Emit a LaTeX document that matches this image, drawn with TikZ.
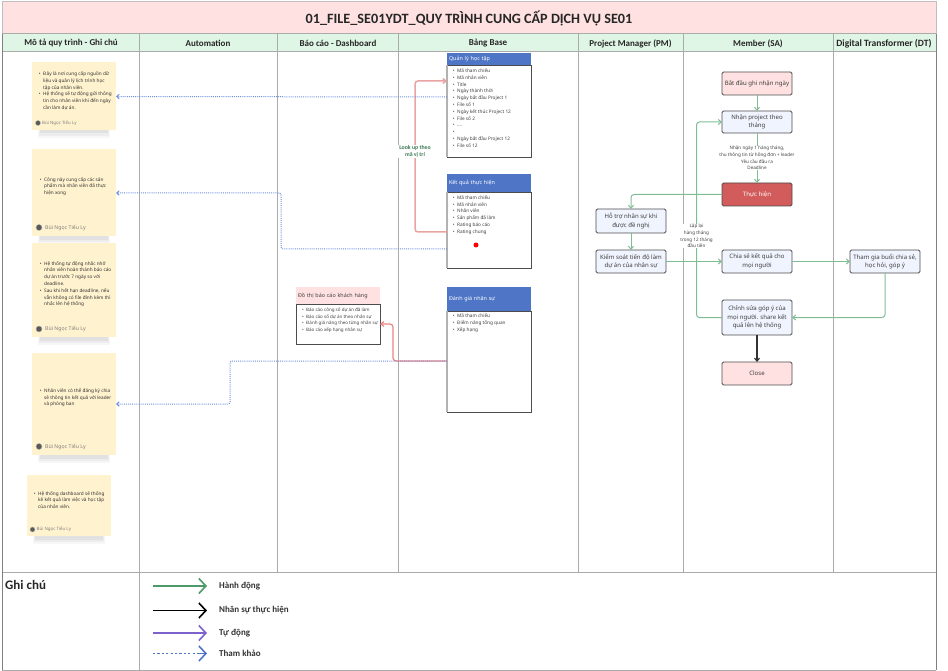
\documentclass[tikz,border=0pt]{standalone}
\usepackage{fontspec}
\setmainfont{Noto Sans}
\newfontfamily\headfont{Carlito}
\usetikzlibrary{arrows.meta,calc,backgrounds}
\definecolor{titlepink}{HTML}{FFE1E1}
\definecolor{headgreen}{HTML}{DFF5E5}
\definecolor{lanegray}{HTML}{ABABAB}
\definecolor{notey}{HTML}{FFF2CE}
\definecolor{boxblue}{HTML}{F0F4FE}
\definecolor{boxred}{HTML}{D25B5B}
\definecolor{tblue}{HTML}{4F76C6}
\definecolor{flowgreen}{HTML}{7FBE94}
\definecolor{linkpink}{HTML}{E9A3A3}
\definecolor{refblue}{HTML}{6F8FDB}
\definecolor{leggreen}{HTML}{4C9A6A}
\definecolor{legpurple}{HTML}{7D62CE}
\definecolor{legblue}{HTML}{4F76C6}
\tikzset{
  x=1pt,y=-1pt,
  band/.style={anchor=north west,inner sep=0pt,outer sep=0pt},
  headtext/.style={font=\headfont\bfseries\fontsize{9}{10}\selectfont,text=black!85,inner sep=0pt},
  lane/.style={draw=lanegray,line width=1pt},
  notebox/.style={band,fill=notey},
  tx/.style={font=\fontsize{4.7}{6.8}\selectfont,align=left,inner sep=0pt,anchor=north west,text=black!80},
  author/.style={font=\fontsize{5.2}{6}\selectfont,inner sep=0pt,anchor=west,text=black!50},
  avatar/.style={circle,fill=black!65,draw=black!30,inner sep=0pt,minimum size=5pt},
  flowbox/.style={band,draw=black!70,line width=.9pt,rounded corners=1.5pt,fill=boxblue,align=center,
    font=\fontsize{6.05}{8.6}\selectfont,text=black!75,minimum width=70pt},
  thead/.style={band,fill=tblue,text=white,font=\fontsize{5.4}{6.5}\selectfont,align=left,minimum width=84pt,text width=80pt,inner xsep=2pt},
  tbody/.style={band,fill=white,draw=black!70,line width=.9pt,minimum width=84pt},
  flow/.style={draw=flowgreen,line width=1pt,rounded corners=3pt,-{Straight Barb[length=3pt,width=5pt]}},
  link/.style={draw=linkpink,line width=1.5pt,rounded corners=3pt,-{Straight Barb[length=3pt,width=5pt]}},
  refl/.style={draw=refblue,line width=1pt,dash pattern=on 1pt off 1.1pt,rounded corners=2pt,-{Straight Barb[length=2.5pt,width=4.5pt]}},
  small/.style={font=\fontsize{4.6}{6.6}\selectfont,align=center,inner sep=0pt,text=black!75},
  legline/.style={line width=1.6pt,-{Straight Barb[length=7pt,width=15pt]}},
  legtext/.style={font=\headfont\bfseries\fontsize{9}{10}\selectfont,inner sep=0pt,anchor=west,text=black!80},
}
\begin{document}
\begin{tikzpicture}
\useasboundingbox (0,0) rectangle (948,671);
% bands
\node[band,fill=titlepink,minimum width=934pt,minimum height=32pt] (titleband) at (2,2) {};
\node[font=\headfont\bfseries\fontsize{14.2}{16}\selectfont,text=black!85,inner sep=0pt] (titletext) at (469,18.5) {01\_FILE\_SE01YDT\_QUY TRÌNH CUNG CẤP DỊCH VỤ SE01};
\node[band,fill=headgreen,minimum width=934pt,minimum height=18pt] (headband) at (2,34) {};
\draw[lane,draw=black!25] (2,2) rectangle (936,34);
\draw[lane] (2,34) -- (936,34) (2,52) -- (936,52) (2,572) -- (936,572) (2,670) -- (936,670);
\draw[lane,draw=black!50] (2,34) -- (2,670);
\draw[lane,draw=black!50] (936,34) -- (936,670);
\draw[lane] (139.5,34) -- (139.5,670);
\foreach \xx in {277,398.5,578,683,833} \draw[lane] (\xx,34) -- (\xx,572);
\node[headtext] (h1) at (71,43.5) {Mô tả quy trình - Ghi chú};
\node[headtext] (h2) at (208,43.5) {Automation};
\node[headtext] (h3) at (338,43.5) {Báo cáo - Dashboard};
\node[headtext] (h4) at (488,43.5) {Bảng Base};
\node[headtext] (h5) at (630.5,43.5) {Project Manager (PM)};
\node[headtext] (h6) at (758,43.5) {Member (SA)};
\node[headtext,font=\headfont\bfseries\fontsize{9.6}{10}\selectfont] (h7) at (884,43.5) {Digital Transformer (DT)};

% sticky notes
\node[notebox,minimum width=84pt,minimum height=68pt] (n1) at (32,62) {};
\node[notebox,minimum width=84pt,minimum height=87pt] (n2) at (32,149.5) {};
\node[notebox,minimum width=84pt,minimum height=94pt] (n3) at (32,243) {};
\node[notebox,minimum width=84pt,minimum height=102pt] (n4) at (32,353) {};
\node[notebox,minimum width=84pt,minimum height=61pt] (n5) at (27,475) {};
\begin{pgfonlayer}{background}
\foreach \nn in {n1,n2,n3,n4,n5}{
  \fill[black,opacity=.03] ($(\nn.south west)+(6,0)$) rectangle ($(\nn.south east)+(-6,8)$);
  \fill[black,opacity=.04] ($(\nn.south west)+(7,0)$) rectangle ($(\nn.south east)+(-7,6)$);
  \fill[black,opacity=.05] ($(\nn.south west)+(8,0)$) rectangle ($(\nn.south east)+(-8,3.5)$);
}
\end{pgfonlayer}
\node[tx] (n1t) at (43,71.5) {\llap{•\hspace{2.5pt}}Đây là nơi cung cấp nguồn dữ\\liệu và quản lý lịch trình học\\tập của nhân viên.\\\llap{•\hspace{2.5pt}}Hệ thống sẽ tự động gửi thông\\tin cho nhân viên khi đến ngày\\cần làm dự án.};
\node[tx] (n2t) at (44,177) {\llap{•\hspace{2.5pt}}Công này cung cấp các sản\\phẩm mà nhân viên đã thực\\hiện xong};
\node[tx] (n3t) at (44,261) {\llap{•\hspace{2.5pt}}Hệ thống tự động nhắc nhở\\nhân viên hoàn thành báo cáo\\dự án trước 7 ngày so với\\deadline.\\\llap{•\hspace{2.5pt}}Sau khi hết hạn deadline, nếu\\vẫn không có file đính kèm thì\\nhắc lên hệ thống};
\node[tx] (n4t) at (44,388) {\llap{•\hspace{2.5pt}}Nhân viên có thể đăng ký chia\\sẻ thông tin kết quả với leader\\và phòng ban};
\node[tx] (n5t) at (38,491) {\llap{•\hspace{2.5pt}}Hệ thống dashboard sẽ thống\\kê kết quả làm việc và học tập\\của nhân viên.};
\node[avatar,minimum size=5pt] (a1) at (38,123) {};
\node[author,font=\fontsize{4.4}{5}\selectfont] (a1t) at (42,123) {Bùi Ngọc Tiểu Ly};
\node[avatar,minimum size=6pt] (a2) at (39,227.5) {};
\node[author] (a2t) at (45,227.5) {Bùi Ngọc Tiểu Ly};
\node[avatar,minimum size=6pt] (a3) at (39,329) {};
\node[author] (a3t) at (45,329) {Bùi Ngọc Tiểu Ly};
\node[avatar,minimum size=6pt] (a4) at (39,446.5) {};
\node[author] (a4t) at (45,446.5) {Bùi Ngọc Tiểu Ly};
\node[avatar,minimum size=5pt] (a5) at (32.5,529.5) {};
\node[author,font=\fontsize{4.4}{5}\selectfont] (a5t) at (36.5,529.5) {Bùi Ngọc Tiểu Ly};

% base tables
\node[thead,minimum height=12pt] (q0) at (447,53) {Quản lý học tập};
\node[tbody,minimum height=92pt] (q) at (447,65) {};
\node[tx,text=black!75] (qt) at (457,68.5) {\llap{•\hspace{2.5pt}}Mã tham chiếu\\\llap{•\hspace{2.5pt}}Mã nhân viên\\\llap{•\hspace{2.5pt}}Title\\\llap{•\hspace{2.5pt}}Ngày thành thời\\\llap{•\hspace{2.5pt}}Ngày bắt đầu Project 1\\\llap{•\hspace{2.5pt}}File số 1\\\llap{•\hspace{2.5pt}}Ngày kết thúc Project 12\\\llap{•\hspace{2.5pt}}File số 2\\\llap{•\hspace{2.5pt}}....\\\llap{•\hspace{2.5pt}}\\\llap{•\hspace{2.5pt}}Ngày bắt đầu Project 12\\\llap{•\hspace{2.5pt}}File số 12};
\node[thead,minimum height=18pt] (k0) at (447,174) {Kết quả thực hiện};
\node[tbody,minimum height=76pt] (k) at (447,192) {};
\node[tx,text=black!75] (kt) at (457,195.2) {\llap{•\hspace{2.5pt}}Mã tham chiếu\\\llap{•\hspace{2.5pt}}Mã nhân viên\\\llap{•\hspace{2.5pt}}Nhân viên\\\llap{•\hspace{2.5pt}}Sản phẩm đã làm\\\llap{•\hspace{2.5pt}}Rating báo cáo\\\llap{•\hspace{2.5pt}}Rating chung};
\node[circle,fill=red,inner sep=0pt,minimum size=5pt] (dot) at (476,245) {};
\node[thead,minimum height=24pt] (d0) at (447,287) {Đánh giá nhân sự};
\node[tbody,minimum height=101pt] (d) at (447,311) {};
\node[tx,text=black!75] (dt) at (457,313.5) {\llap{•\hspace{2.5pt}}Mã tham chiếu\\\llap{•\hspace{2.5pt}}Điểm năng tổng quan\\\llap{•\hspace{2.5pt}}Xếp hạng};
\draw[draw=black!30,line width=1.4pt] (q.north west) -- (q.south west) (k.north west) -- (k.south west) (d.north west) -- (d.south west);
% dashboard
\node[thead,fill=titlepink,text=black!75,minimum height=17pt] (g0) at (296,287) {Đồ thị báo cáo khách hàng};
\node[tbody,minimum height=40pt] (g) at (296,304) {};
\node[tx,text=black!75,font=\fontsize{4.5}{6.8}\selectfont] (gt) at (306,307.5) {\llap{•\hspace{2.5pt}}Báo cáo công số dự án đã làm\\\llap{•\hspace{2.5pt}}Báo cáo số dự án theo nhân sự\\\llap{•\hspace{2.5pt}}Đánh giá năng theo từng nhân sự\\\llap{•\hspace{2.5pt}}Báo cáo xếp hạng nhân sự};

% flow boxes
\node[flowbox,fill=titlepink,minimum height=23pt] (start) at (722,72) {Bắt đầu ghi nhận ngày};
\node[flowbox,minimum height=22pt] (nhan) at (722,111) {Nhận project theo\\tháng};
\node[flowbox,fill=boxred,text=white,minimum height=23pt] (thuc) at (722,183) {Thực hiện};
\node[flowbox,minimum height=24pt] (hotro) at (596,209) {Hỗ trợ nhân sự khi\\được đề nghị};
\node[flowbox,minimum height=23pt] (kiem) at (596,250) {Kiểm soát tiến độ làm\\dự án của nhân sự};
\node[flowbox,minimum height=23pt] (chia) at (722,250) {Chia sẻ kết quả cho\\mọi người};
\node[flowbox,minimum height=23pt] (tham) at (850,250) {Tham gia buổi chia sẻ,\\học hỏi, góp ý};
\node[flowbox,minimum height=35pt] (chinh) at (722,300) {Chỉnh sửa góp ý của\\mọi người. share kết\\quả lên hệ thống};
\node[flowbox,fill=titlepink,minimum height=23pt] (close) at (722,362) {Close};

% flow connectors
\draw[flow] (start) -- (nhan);
\draw[flow] (nhan) -- (thuc);
\node[small,fill=white] (lb1) at (757,158) {Nhận ngày 1 hàng tháng,\\thu thông tin từ hồng đơn + leader\\Yêu cầu đầu ra\\Deadline};
\draw[flow] (thuc.west) -| (hotro.north);
\draw[flow] (hotro) -- (kiem);
\draw[flow] (kiem) -- (chia);
\draw[flow] (chia) -- (tham);
\draw[flow] (tham.south) |- (chinh.east);
\draw[flow] (chinh.west) -- ++(-25.5,0) |- (nhan.west);
\node[small,fill=white] (lb2) at (696.5,236) {Lặp lại\\hàng tháng\\trong 12 tháng\\đầu tiên};
\draw[black!80,line width=1.2pt,-{Straight Barb[length=3pt,width=5pt]}] (chinh) -- (close);

% lookup links
\draw[link] ([yshift=-2pt]k.west) -- ++(-32,0) |- ([yshift=30pt]q.west);
\node[font=\headfont\bfseries\fontsize{5.8}{6.8}\selectfont,text=leggreen!80!black,fill=white,align=center,inner sep=1pt] (lb3) at (415,151.5) {Look up theo\\mã vị trí};
\draw[link,draw=linkpink!80!red,line width=1.2pt] ([yshift=0.5pt]d.west) -- ++(-54,0) |- (g.east);
% reference links
\draw[refl] ([yshift=14pt]q.west) -- (n1.east |- 0,96.5);
\draw[refl] ([yshift=-19pt]k.west) -- ++(-166,0) |- (n2.east);
\draw[refl] ([yshift=0.5pt]d.west) -- ++(-217,0) |- (n4.east |- 0,404);

% legend
\draw[lane] (139.5,572) -- (139.5,670);
\node[font=\headfont\bfseries\fontsize{13}{15}\selectfont,inner sep=0pt,anchor=west,text=black!85] (ghi) at (5,584.5) {Ghi chú};
\node[legtext] (l1) at (219,586) {Hành động};
\node[legtext] (l2) at (219,610.5) {Nhân sự thực hiện};
\node[legtext] (l3) at (219,633) {Tự động};
\node[legtext] (l4) at (219,653.5) {Tham khảo};
\coordinate (c1) at (153,586); \coordinate (c2) at (153,610.5); \coordinate (c3) at (153,633); \coordinate (c4) at (153,653.5);
\draw[legline,leggreen] (c1) -- ([xshift=-12pt]l1.west);
\draw[legline,black] (c2) -- ([xshift=-12pt]l2.west);
\draw[legline,legpurple] (c3) -- ([xshift=-12pt]l3.west);
\draw[draw=legblue,line width=1.6pt,dash pattern=on 2.2pt off 2.2pt] (c4) -- ([xshift=-13pt]l4.west);
\draw[legline,draw=legblue] ([xshift=-20pt]l4.west) -- ([xshift=-12pt]l4.west);
\end{tikzpicture}
\end{document}
